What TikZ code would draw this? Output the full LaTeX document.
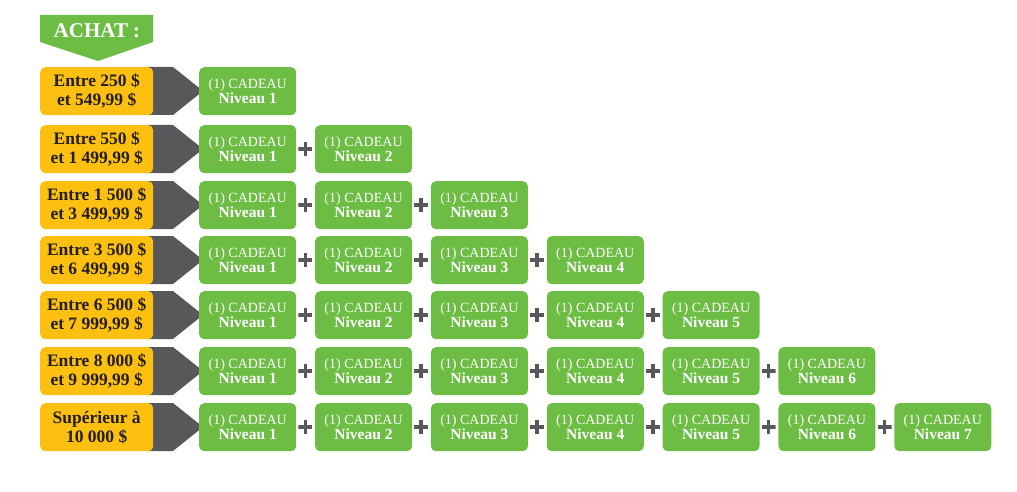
\documentclass[tikz,border=0pt]{standalone}
\usepackage{fontspec}
\setmainfont{Liberation Serif}
\definecolor{ygold}{HTML}{FDC010}
\definecolor{leaf}{HTML}{6DBD45}
\definecolor{slate}{HTML}{58585A}
\definecolor{ink}{HTML}{231F20}
\begin{document}
\begin{tikzpicture}[x=1pt,y=-1pt,
  pricebox/.style={anchor=north west, minimum width=113pt, minimum height=48pt,
    fill=ygold, rounded corners=5pt, align=center, inner sep=0pt, text=ink,
    font=\bfseries\fontsize{17.5}{19}\selectfont},
  giftbox/.style={anchor=north west, minimum width=97pt, minimum height=48pt,
    fill=leaf, rounded corners=5pt, align=center, inner sep=0pt, text=white,
    font=\fontsize{14}{15}\selectfont},
  plussign/.style={minimum size=14pt, inner sep=0pt,
    path picture={\draw[slate, line width=3.4pt]
      (path picture bounding box.north) -- (path picture bounding box.south)
      (path picture bounding box.west) -- (path picture bounding box.east);}},
  pointer/.style={fill=slate}
]
\useasboundingbox (0,0) rectangle (1017,492);
% banner
\fill[leaf] (40,15) -- (153,15) -- (153,42) -- (98,61) -- (40,42) -- cycle;
\node[text=white, font=\bfseries\fontsize{21}{22}\selectfont] (achat) at (97,31) {ACHAT :};
% rows
\foreach \r/\t in {1/67,2/125,3/181,4/236,5/291,6/347,7/403} {
  \fill[pointer] (145,\t) -- (173,\t) -- (203,\t+24) -- (173,\t+48) -- (145,\t+48) -- cycle;
  \foreach \j in {1,...,\r} {
    \pgfmathsetmacro\gx{199+115.85*(\j-1)}
    \node[giftbox] (g\r-\j) at (\gx,\t) {(1) CADEAU\\\textbf{\fontsize{15.5}{15}\selectfont Niveau \j}};
    \ifnum\j>1
      \node[plussign] (p\r-\j) at (\gx-9.6,\t+24) {};
    \fi
  }
}
\node[pricebox] (y1) at (40,67)  {Entre 250 \$\\et 549,99 \$};
\node[pricebox] (y2) at (40,125) {Entre 550 \$\\et 1 499,99 \$};
\node[pricebox] (y3) at (40,181) {Entre 1 500 \$\\et 3 499,99 \$};
\node[pricebox] (y4) at (40,236) {Entre 3 500 \$\\et 6 499,99 \$};
\node[pricebox] (y5) at (40,291) {Entre 6 500 \$\\et 7 999,99 \$};
\node[pricebox] (y6) at (40,347) {Entre 8 000 \$\\et 9 999,99 \$};
\node[pricebox] (y7) at (40,403) {Supérieur à\\10 000 \$};
\end{tikzpicture}
\end{document}
